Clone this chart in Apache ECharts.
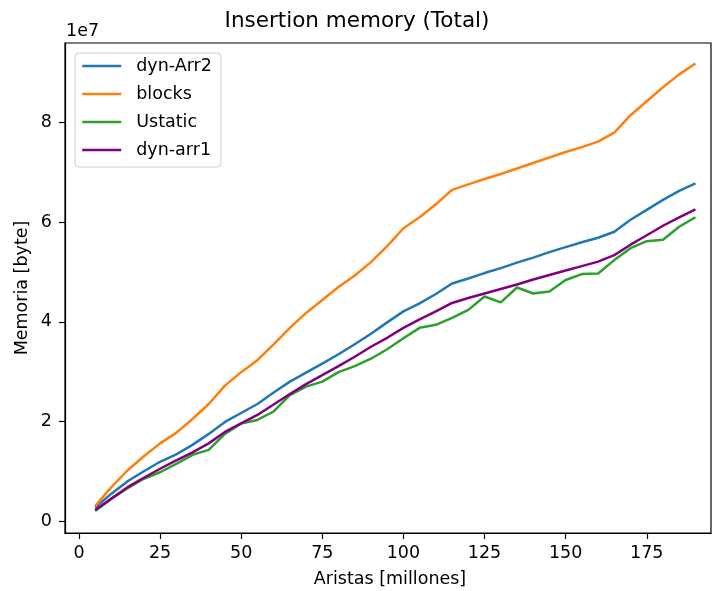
<!DOCTYPE html>
<html>
<head>
<meta charset="utf-8">
<script src="https://cdn.jsdelivr.net/npm/echarts@6/dist/echarts.min.js"></script>
<style>
html,body{margin:0;padding:0;background:#fff;}
#chart{width:714px;height:591px;}
</style>
</head>
<body>
<div id="chart"></div>
<script>
// X values: Aristas [millones]
var aristas = [5,10,15,20,25,30,35,40,45,50,55,60,65,70,75,80,85,90,95,100,105,110,115,120,125,130,135,140,145,150,155,160,165,170,175,180,185,190];
// Memory values in units of 1e7 bytes
var dynArr2 = [0.27,0.55,0.80,1.00,1.19,1.34,1.53,1.75,1.99,2.17,2.35,2.58,2.80,2.98,3.16,3.35,3.55,3.76,3.99,4.21,4.37,4.56,4.77,4.87,4.98,5.08,5.19,5.29,5.40,5.50,5.60,5.69,5.81,6.05,6.25,6.45,6.63,6.78];
var blocks = [0.30,0.68,1.02,1.30,1.56,1.77,2.05,2.35,2.72,2.99,3.23,3.55,3.88,4.18,4.44,4.70,4.93,5.20,5.52,5.88,6.10,6.36,6.65,6.76,6.87,6.97,7.08,7.19,7.30,7.41,7.51,7.62,7.80,8.15,8.43,8.71,8.97,9.19];
var ustatic = [0.20,0.45,0.66,0.85,0.98,1.15,1.33,1.43,1.75,1.96,2.03,2.20,2.53,2.70,2.80,2.99,3.11,3.26,3.45,3.67,3.88,3.94,4.08,4.24,4.51,4.39,4.69,4.57,4.61,4.84,4.96,4.97,5.24,5.48,5.62,5.65,5.91,6.10];
var dynArr1 = [0.22,0.45,0.68,0.87,1.05,1.22,1.38,1.56,1.79,1.96,2.13,2.34,2.55,2.75,2.93,3.11,3.30,3.50,3.68,3.88,4.05,4.21,4.38,4.48,4.57,4.66,4.75,4.85,4.94,5.03,5.12,5.21,5.34,5.55,5.74,5.93,6.10,6.26];
var seriesNames = ['dyn-Arr2','blocks','Ustatic','dyn-arr1'];
var xTicks = [0,25,50,75,100,125,150,175];
var yTicks = [0,2,4,6,8];

var FONT = 'DejaVu Sans';
var colors = ['#1f77b4','#ff7f0e','#2ca02c','#800080'];
var datasets = [dynArr2, blocks, ustatic, dynArr1];

function pairs(ys){ return aristas.map(function(x,i){ return [x, ys[i]]; }); }

var chart = echarts.init(document.getElementById('chart'), null, {renderer:'canvas'});
var option = {
  animation:false,
  backgroundColor:'#fff',
  grid:{left:65, top:43, right:3, bottom:58, show:true, borderColor:'#000', borderWidth:1.2, backgroundColor:'transparent', outerBoundsMode:'none'},
  xAxis:{
    type:'value', min:-4.3, max:194.8,
    axisLine:{show:true, onZero:false, lineStyle:{color:'#000', width:1.2}},
    axisTick:{show:true, inside:false, length:6, lineStyle:{color:'#000', width:1.2}, customValues:xTicks},
    axisLabel:{show:true, customValues:xTicks, color:'#000', fontFamily:FONT, fontSize:17.5, margin:11},
    splitLine:{show:false}
  },
  yAxis:{
    type:'value', min:-0.24, max:9.6,
    axisLine:{show:true, onZero:false, lineStyle:{color:'#000', width:1.2}},
    axisTick:{show:true, inside:false, length:6, lineStyle:{color:'#000', width:1.2}, customValues:yTicks},
    axisLabel:{show:true, customValues:yTicks, color:'#000', fontFamily:FONT, fontSize:17.5, margin:13},
    splitLine:{show:false}
  },
  legend:{
    show:true, orient:'vertical', left:75, top:53,
    data:seriesNames,
    itemWidth:39, itemHeight:14, itemGap:8,
    padding:[3,9,7,6],
    itemStyle:{opacity:0, borderWidth:0},
    lineStyle:{width:2.5},
    backgroundColor:'rgba(255,255,255,0.8)', borderColor:'#cccccc', borderWidth:1, borderRadius:4,
    textStyle:{fontFamily:FONT, fontSize:17.5, color:'#000', lineHeight:20, padding:[0,0,0,10]}
  },
  graphic:[
    {type:'text', left:'center', top:10, style:{text:'Insertion memory (Total)', font:'21.5px "DejaVu Sans"', fill:'#000'}},
    {type:'text', x:66, y:22, style:{text:'1e7', font:'17.5px "DejaVu Sans"', fill:'#000'}},
    {type:'text', x:390, y:579, style:{text:'Aristas [millones]', font:'17.5px "DejaVu Sans"', fill:'#000', align:'center', verticalAlign:'middle'}},
    {type:'text', x:22, y:288, rotation:Math.PI/2, style:{text:'Memoria [byte]', font:'17.5px "DejaVu Sans"', fill:'#000', align:'center', verticalAlign:'middle'}}
  ],
  series: seriesNames.map(function(n,i){
    return {
      name:n, type:'line', data:pairs(datasets[i]),
      symbol:'none', showSymbol:false, smooth:false,
      lineStyle:{color:colors[i], width:2.5},
      itemStyle:{color:colors[i]},
      z:2+i
    };
  })
};
chart.setOption(option);
</script>
</body>
</html>
